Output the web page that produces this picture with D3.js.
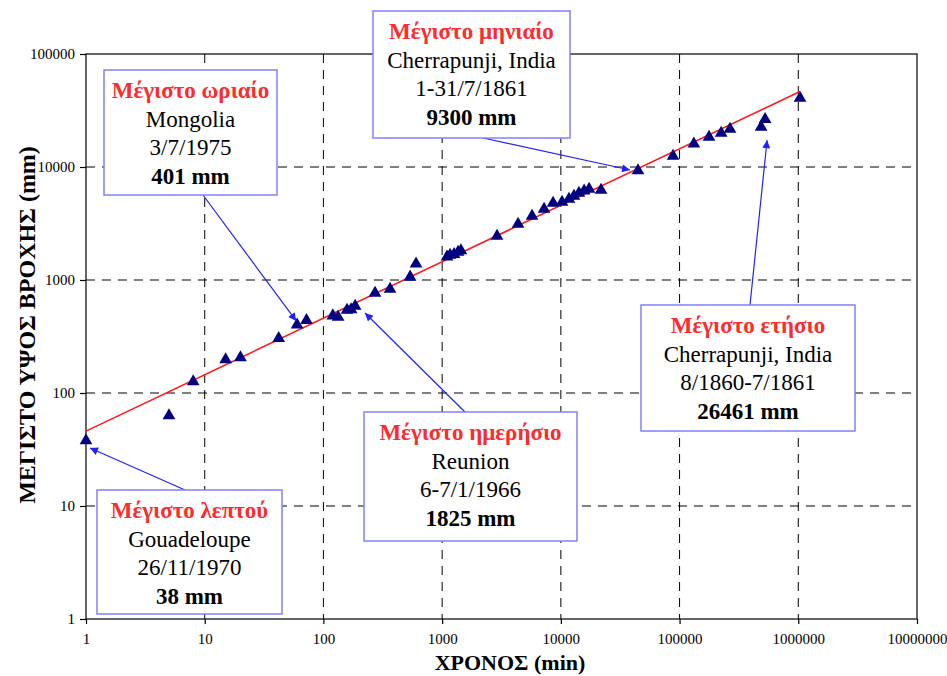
<!DOCTYPE html>
<html>
<head>
<meta charset="utf-8">
<script src="https://cdn.jsdelivr.net/npm/d3@7"></script>
<style>
  body { margin: 0; background: #fff; }
</style>
</head>
<body>
<div id="chart"></div>
<script>
// World record rainfall depths vs duration
const durationMin = [1, 5, 8, 15, 20, 42, 60, 72, 120, 133, 158, 171, 185, 272, 364, 537, 603,
  1099, 1166, 1260, 1361, 1440, 2900, 4360, 5720, 7220, 8600, 10230, 11700, 12900, 14200,
  15700, 17300, 21800, 44640, 88100, 132000, 177000, 224000, 266000, 486000, 525600, 1035000];
const depthMm = [38, 63, 126, 198, 206, 305, 401, 440, 483, 470, 543, 548, 588, 767, 832, 1064, 1387,
  1600, 1664, 1690, 1770, 1825, 2450, 3130, 3680, 4250, 4800, 4900, 5210, 5540, 5890,
  6140, 6390, 6260, 9300, 12500, 16000, 18400, 20000, 21700, 22600, 26461, 40800];

// envelope line (two end points)
const envelopeX = [1, 1035000];
const envelopeY = [46, 46500];

const xTicks = [1, 10, 100, 1000, 10000, 100000, 1000000, 10000000];
const yTicks = [1, 10, 100, 1000, 10000, 100000];

// annotation texts
const noteTitles = ['Μέγιστο ωριαίο', 'Μέγιστο μηνιαίο', 'Μέγιστο ημερήσιο', 'Μέγιστο ετήσιο', 'Μέγιστο λεπτού'];
const notePlaces = ['Mongolia', 'Cherrapunji, India', 'Reunion', 'Cherrapunji, India', 'Gouadeloupe'];
const noteDates = ['3/7/1975', '1-31/7/1861', '6-7/1/1966', '8/1860-7/1861', '26/11/1970'];
const noteValues = ['401 mm', '9300 mm', '1825 mm', '26461 mm', '38 mm'];
// arrow targets in data units [min, mm]
const noteTargets = [[59, 434], [38300, 9400], [224, 510], [546000, 17300], [1.08, 32.6]];

// box layout (pixels) and arrow start points
const noteBoxes = [
  { x: 104, y: 70, w: 173, h: 125, ax: 203, ay: 195 },
  { x: 373, y: 11, w: 197, h: 127, ax: 483, ay: 138 },
  { x: 364, y: 412, w: 213, h: 129, ax: 465, ay: 412 },
  { x: 641, y: 305, w: 214, h: 126, ax: 750, ay: 305 },
  { x: 97, y: 490, w: 185, h: 124, ax: 185, ay: 490 }
];

const FONT = 'Liberation Serif';
const width = 947;
const height = 676;
const plot = { left: 86, right: 917, top: 54, bottom: 619 };

const svg = d3.select('#chart')
  .append('svg')
  .attr('width', width)
  .attr('height', height);

const x = d3.scaleLog().domain([1, 1e7]).range([plot.left, plot.right]);
const y = d3.scaleLog().domain([1, 1e5]).range([plot.bottom, plot.top]);

// dashed grid
svg.append('g')
  .selectAll('line')
  .data(xTicks.slice(1, -1))
  .join('line')
  .attr('x1', d => x(d)).attr('x2', d => x(d))
  .attr('y1', plot.top).attr('y2', plot.bottom)
  .attr('stroke', '#000')
  .attr('stroke-dasharray', '9,7');

svg.append('g')
  .selectAll('line')
  .data(yTicks.slice(1, -1))
  .join('line')
  .attr('x1', plot.left).attr('x2', plot.right)
  .attr('y1', d => y(d)).attr('y2', d => y(d))
  .attr('stroke', '#000')
  .attr('stroke-dasharray', '9,7');

// frame
svg.append('rect')
  .attr('x', plot.left).attr('y', plot.top)
  .attr('width', plot.right - plot.left)
  .attr('height', plot.bottom - plot.top)
  .attr('fill', 'none')
  .attr('stroke', '#000')
  .attr('stroke-width', 1.2);

// axes
const xAxis = svg.append('g')
  .attr('transform', `translate(0,${plot.bottom})`)
  .call(d3.axisBottom(x).tickValues(xTicks).tickFormat(d3.format('d')).tickSize(5).tickSizeOuter(0).tickPadding(9));
const yAxis = svg.append('g')
  .attr('transform', `translate(${plot.left},0)`)
  .call(d3.axisLeft(y).tickValues(yTicks).tickFormat(d3.format('d')).tickSize(6).tickSizeOuter(0).tickPadding(5));

[xAxis, yAxis].forEach(a => {
  a.select('.domain').remove();
  a.selectAll('text')
    .attr('fill', '#000')
    .style('font-family', FONT)
    .style('font-size', '15px');
  a.selectAll('.tick line').attr('stroke', '#000').attr('stroke-width', 1.2);
});

// envelope line
const envelope = envelopeX.map((d, i) => [d, envelopeY[i]]);
svg.append('path')
  .datum(envelope)
  .attr('d', d3.line().x(d => x(d[0])).y(d => y(d[1])))
  .attr('stroke', '#ff1a1a')
  .attr('stroke-width', 1.6)
  .attr('fill', 'none');

// data points
svg.append('g')
  .selectAll('path')
  .data(durationMin.map((d, i) => [d, depthMm[i]]))
  .join('path')
  .attr('transform', d => `translate(${x(d[0])},${y(d[1])})`)
  .attr('d', d3.symbol().type(d3.symbolTriangle).size(70))
  .attr('fill', '#000080');

// arrow marker
svg.append('defs').append('marker')
  .attr('id', 'arrow')
  .attr('viewBox', '0 0 10 10')
  .attr('refX', 10).attr('refY', 5)
  .attr('markerWidth', 11).attr('markerHeight', 8)
  .attr('markerUnits', 'userSpaceOnUse')
  .attr('orient', 'auto')
  .append('path')
  .attr('d', 'M0,0L10,5L0,10z')
  .attr('fill', '#2020ff');

// annotations
noteBoxes.forEach((b, i) => {
  const t = noteTargets[i];
  svg.append('line')
    .attr('x1', b.ax).attr('y1', b.ay)
    .attr('x2', x(t[0])).attr('y2', y(t[1]))
    .attr('stroke', '#2020ff')
    .attr('stroke-width', 1.2)
    .attr('marker-end', 'url(#arrow)');

  const g = svg.append('g');
  g.append('rect')
    .attr('x', b.x).attr('y', b.y)
    .attr('width', b.w).attr('height', b.h)
    .attr('fill', '#fff')
    .attr('stroke', '#8080ff')
    .attr('stroke-width', 1.5);

  const cx = b.x + b.w / 2;
  const lines = [
    { s: noteTitles[i], fill: '#ff2a2a', weight: 'bold' },
    { s: notePlaces[i], fill: '#000', weight: 'normal' },
    { s: noteDates[i], fill: '#000', weight: 'normal' },
    { s: noteValues[i], fill: '#000', weight: 'bold' }
  ];
  lines.forEach((l, k) => {
    g.append('text')
      .attr('x', cx)
      .attr('y', b.y + 28 + k * 28.5)
      .attr('text-anchor', 'middle')
      .attr('fill', l.fill)
      .style('font-family', FONT)
      .style('font-weight', l.weight)
      .style('font-size', '23px')
      .text(l.s);
  });
});

// axis titles
svg.append('text')
  .attr('x', 510)
  .attr('y', 670)
  .attr('text-anchor', 'middle')
  .style('font-family', FONT)
  .style('font-weight', 'bold')
  .style('font-size', '22px')
  .text('ΧΡΟΝΟΣ (min)');

svg.append('text')
  .attr('transform', 'translate(35,325) rotate(-90)')
  .attr('text-anchor', 'middle')
  .style('font-family', FONT)
  .style('font-weight', 'bold')
  .style('font-size', '24px')
  .text('ΜΕΓΙΣΤΟ ΥΨΟΣ ΒΡΟΧΗΣ (mm)');
</script>
</body>
</html>
